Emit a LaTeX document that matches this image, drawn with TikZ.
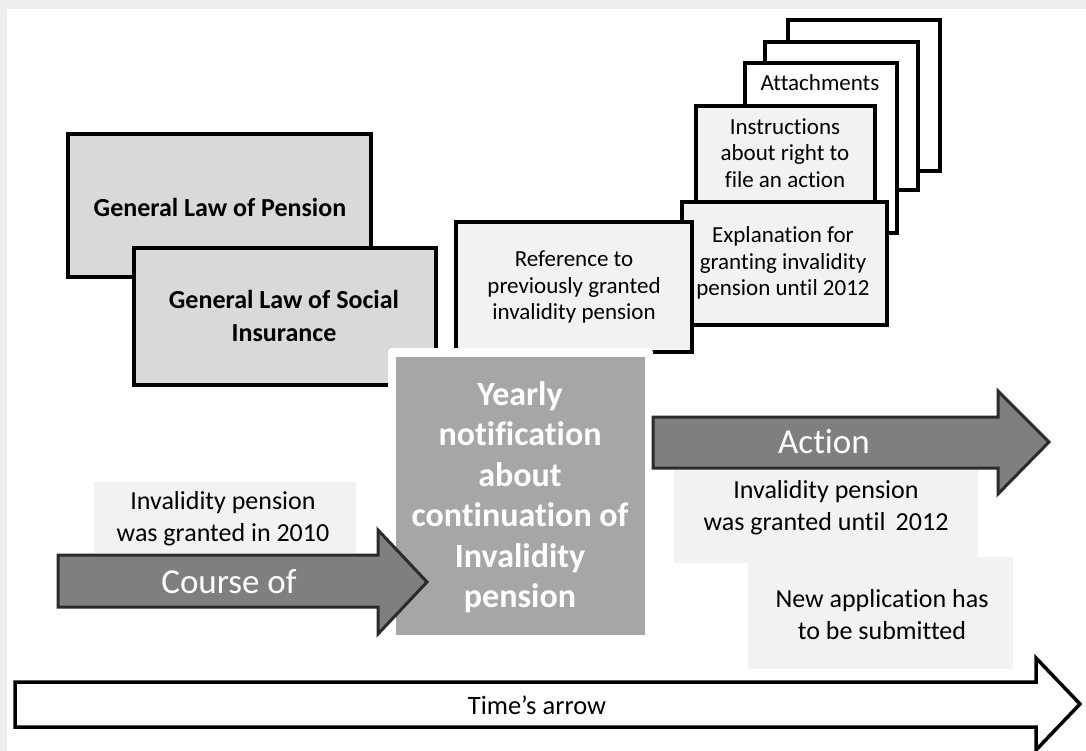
\documentclass[tikz,border=0pt]{standalone}
\usepackage{fontspec}
\setmainfont{Carlito}[Ligatures={TeX,NoCommon}]
\usetikzlibrary{fit}
\definecolor{lawfill}{HTML}{D9D9D9}
\definecolor{notefill}{HTML}{F2F2F2}
\definecolor{arrowfill}{HTML}{7F7F7F}
\definecolor{yearfill}{HTML}{A6A6A6}
\definecolor{arrowedge}{HTML}{2B2B2B}
\definecolor{pageedge}{HTML}{EEEEEE}
\tikzset{
  frame/.style={inner sep=0pt, outer sep=0pt},
  lawbox/.style={frame, draw=black, line width=4pt, fill=lawfill},
  docbox/.style={frame, draw=black, line width=4pt, fill=notefill},
  blankbox/.style={frame, draw=black, line width=4pt, fill=white},
  notebox/.style={frame, fill=notefill},
  yearbox/.style={frame, fill=yearfill},
  fatarrow/.style={draw=arrowedge, line width=3pt, fill=arrowfill, line join=miter},
  timearrow/.style={draw=black, line width=3.5pt, fill=white, line join=miter},
  bodytext/.style={align=center, inner sep=0pt, font=\fontsize{23}{26.5}\selectfont},
  notetext/.style={align=center, inner sep=0pt, font=\fontsize{26}{32}\selectfont},
  lawtext/.style={align=center, inner sep=0pt, font=\bfseries\fontsize{26}{33}\selectfont},
  yeartext/.style={align=center, inner sep=0pt, text=white, font=\bfseries\fontsize{34}{40.5}\selectfont},
  arrowtext/.style={inner sep=0pt, text=white, font=\fontsize{35}{40}\selectfont},
}
\begin{document}
\begin{tikzpicture}[x=1pt, y=-1pt]
\useasboundingbox (0,0) rectangle (1086,751);
% page with a soft edge along the top and left
\fill[pageedge] (0,0) rectangle (1086,751);
\fill[white] (7,9) rectangle (1086,751);

% the two laws
\node (pension) [lawbox, fit={(68,134) (371,277)}] {};
\node (social)  [lawbox, fit={(134,248) (436,385)}] {};
\node (pensiontxt) [lawtext] at (220,207) {General Law of Pension};
\node (socialtxt)  [lawtext] at (284,316) {General Law of Social\\Insurance};

% stack of documents
\node (sheetA) [blankbox, fit={(788,20) (940,171)}] {};
\node (sheetB) [blankbox, fit={(765,42) (918,190)}] {};
\node (attach) [blankbox, fit={(745,63) (897,233)}] {};
\node (attachtxt) [bodytext] at (820,83) {Attachments};
\node (instr)  [docbox, fit={(696,106) (875,215)}] {};
\node (instrtxt) [bodytext] at (785,153) {Instructions\\about right to\\file an action};
\node (expl)   [docbox, fit={(682,202) (887,325)}] {};
\node (expltxt) [bodytext] at (783,263) {Explanation for\\granting invalidity\\pension until 2012};
\node (ref)    [docbox, fit={(456,222) (692,352)}] {};
\node (reftxt) [bodytext] at (574,287) {Reference to\\previously granted\\invalidity pension};

% course of the pension
\node (granted) [notebox, fit={(94,482) (356,553)}] {};
\node (grantedtxt) [notetext] at (223,519) {Invalidity pension\\was granted in 2010};

% yearly notification
\node (yearedge) [frame, fill=white, rounded corners=4pt, fit={(388,348) (653,643)}] {};
\node (year) [yearbox, fit={(396,357) (645,635)}] {};
\node (yeartxt) [yeartext] at (520,497) {Yearly\\notification\\about\\continuation of\\Invalidity\\pension};

\coordinate (cA) at (58,555);
\coordinate (cB) at (378,555);
\coordinate (cC) at (378,530);
\coordinate (cTip) at (427,582);
\coordinate (cD) at (378,634);
\coordinate (cE) at (378,607);
\coordinate (cF) at (58,607);
\draw[fatarrow] (cA) -- (cB) -- (cC) -- (cTip) -- (cD) -- (cE) -- (cF) -- cycle;
\node (coursetxt) [arrowtext] at (229,582) {Course of};

% action and its consequences
\node (until) [notebox, fit={(674,460) (978,563)}] {};
\node (untiltxt) [notetext] at (826,508) {Invalidity pension\\was granted until\, 2012};
\node (newapp) [notebox, fit={(748,557) (1013,669)}] {};
\node (newapptxt) [notetext] at (882,615) {New application has\\to be submitted};

\coordinate (aA) at (653,417);
\coordinate (aB) at (998,417);
\coordinate (aC) at (998,391);
\coordinate (aTip) at (1049,442);
\coordinate (aD) at (998,494);
\coordinate (aE) at (998,468);
\coordinate (aF) at (653,468);
\draw[fatarrow] (aA) -- (aB) -- (aC) -- (aTip) -- (aD) -- (aE) -- (aF) -- cycle;
\node (actiontxt) [arrowtext] at (824,442) {Action};

% time line
\coordinate (tA) at (15,682);
\coordinate (tB) at (1036,682);
\coordinate (tC) at (1036,658);
\coordinate (tTip) at (1080,704);
\coordinate (tD) at (1036,750);
\coordinate (tE) at (1036,727);
\coordinate (tF) at (15,727);
\draw[timearrow] (tA) -- (tB) -- (tC) -- (tTip) -- (tD) -- (tE) -- (tF) -- cycle;
\node (timetxt) [inner sep=0pt, font=\fontsize{26.5}{30}\selectfont] at (537,705) {Time’s arrow};
\end{tikzpicture}
\end{document}
